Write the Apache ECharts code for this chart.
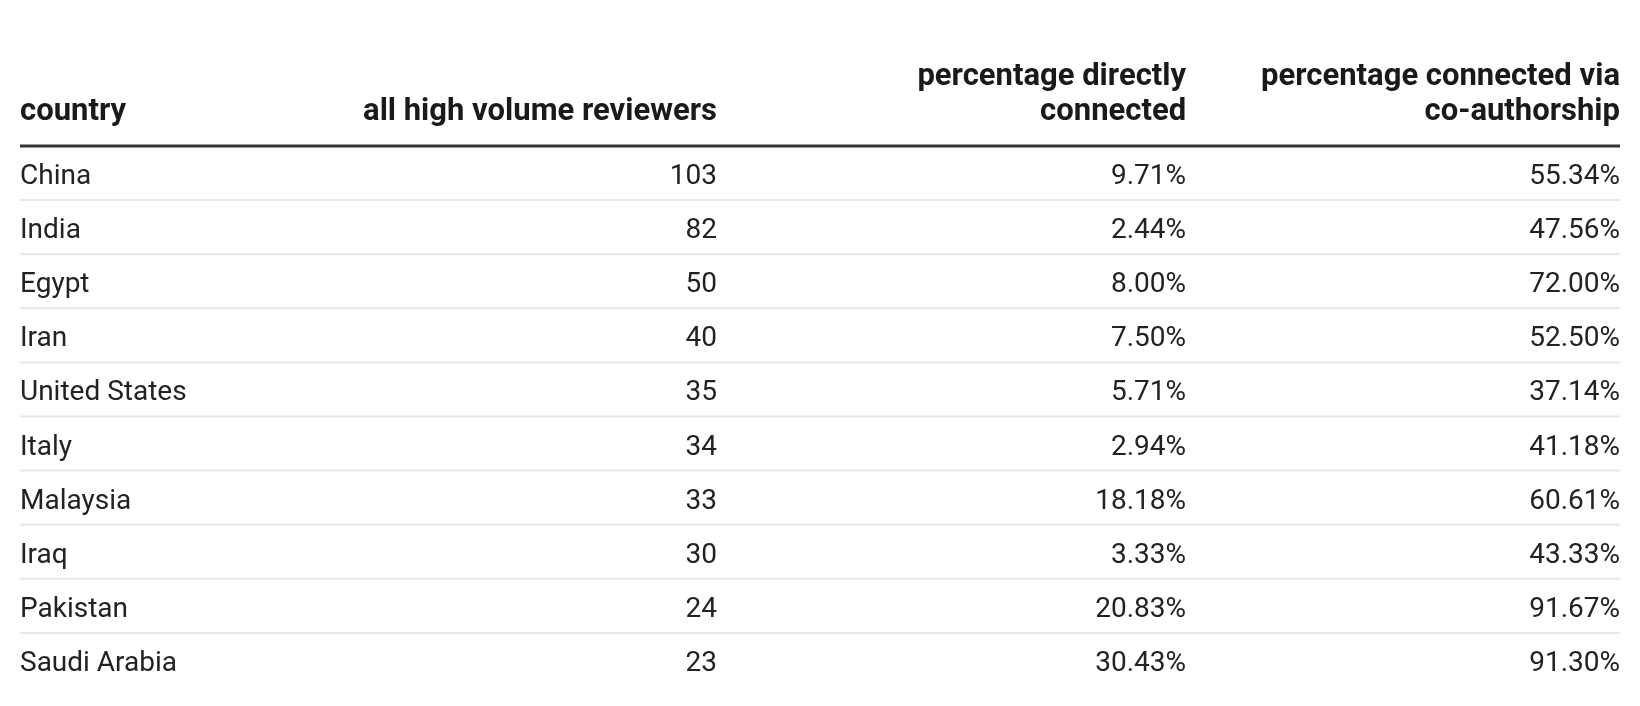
<!DOCTYPE html>
<html lang="en">
  <head>
    <meta charset="UTF-8" />
    <title>high volume reviewers by country</title>
    <style>
      html, body { margin: 0; padding: 0; background-color: #fff; }
      #main { width: 1640px; height: 706px; }
    </style>
  </head>
  <body>
    <div id="main"></div>
  </body>
  <script src="https://cdn.jsdelivr.net/npm/echarts@6/dist/echarts.min.js"></script>
  <script>
    // table data
    var headers = ['country', 'all high volume reviewers', 'percentage directly\nconnected', 'percentage connected via\nco-authorship'];
    var countries = ['China', 'India', 'Egypt', 'Iran', 'United States', 'Italy', 'Malaysia', 'Iraq', 'Pakistan', 'Saudi Arabia'];
    var reviewers = [103, 82, 50, 40, 35, 34, 33, 30, 24, 23];
    var directPct = [9.71, 2.44, 8.00, 7.50, 5.71, 2.94, 18.18, 3.33, 20.83, 30.43];
    var coauthPct = [55.34, 47.56, 72.00, 52.50, 37.14, 41.18, 60.61, 43.33, 91.67, 91.30];

    // where each column is anchored on the (hidden) 0..1 x axis
    var colAnchor = [0, 0.4356, 0.7288, 1];
    var FONT = '28px Roboto';
    var FONT_BOLD = 'bold 31px Roboto';

    var rows = countries.map(function (c, i) {
      return [c, reviewers[i], directPct[i], coauthPct[i]];
    });

    function cellText(row, c) {
      if (c === 0) return row[0];
      if (c === 1) return String(row[1]);
      return row[c].toFixed(2) + '%';
    }

    var myChart = echarts.init(document.getElementById('main'));
    var option = {
      animation: false,
      grid: { left: 20, right: 20, top: 146, bottom: 19 },
      xAxis: { type: 'value', min: 0, max: 1, show: false },
      yAxis: { type: 'category', data: countries, inverse: true, show: false },
      series: [{
        type: 'custom',
        silent: true,
        data: rows,
        encode: { y: 0 },
        renderItem: function (params, api) {
          var i = params.dataIndex;
          var row = rows[i];
          var p0 = api.coord([0, countries[i]]);
          var p1 = api.coord([1, countries[i]]);
          var rowH = api.size([0, 1])[1];
          var cy = p0[1];
          var children = [];
          colAnchor.forEach(function (a, c) {
            children.push({
              type: 'text',
              style: {
                text: cellText(row, c),
                x: api.coord([a, countries[i]])[0],
                y: cy + 4,
                align: c === 0 ? 'left' : 'right',
                verticalAlign: 'middle',
                font: FONT,
                fill: '#222'
              }
            });
          });
          // thin row separator (none under the last row)
          if (i < rows.length - 1) {
            children.push({
              type: 'line',
              shape: { x1: p0[0], y1: cy + rowH / 2, x2: p1[0], y2: cy + rowH / 2 },
              style: { stroke: '#e8e8e8', lineWidth: 2 }
            });
          }
          // header + thick rule above the first row
          if (i === 0) {
            var top = cy - rowH / 2;
            children.push({
              type: 'line',
              shape: { x1: p0[0], y1: top, x2: p1[0], y2: top },
              style: { stroke: '#333', lineWidth: 3 }
            });
            colAnchor.forEach(function (a, c) {
              children.push({
                type: 'text',
                style: {
                  text: headers[c],
                  x: api.coord([a, countries[i]])[0],
                  y: top - 16,
                  align: c === 0 ? 'left' : 'right',
                  verticalAlign: 'bottom',
                  lineHeight: 35,
                  font: FONT_BOLD,
                  fill: '#1a1a1a'
                }
              });
            });
          }
          return { type: 'group', children: children };
        }
      }]
    };
    myChart.setOption(option);
  </script>
</html>
